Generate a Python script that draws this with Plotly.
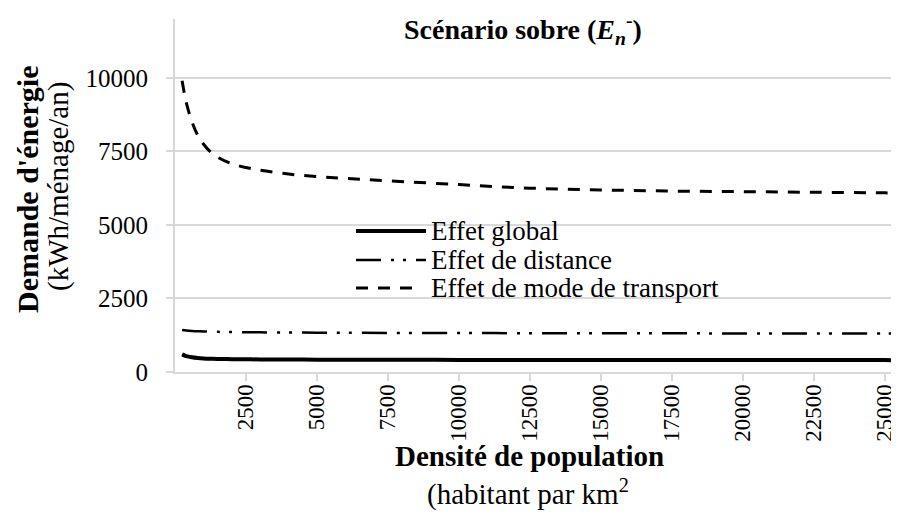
import plotly.graph_objects as go

density = [250, 400, 600, 800, 1000, 1250, 1500, 2000, 2500, 3000, 4000, 5000, 6000,
           7500, 10000, 12500, 15000, 17500, 20000, 22500, 25000, 26000]
effet_global = [600, 540, 500, 475, 460, 450, 445, 437, 432, 428, 423, 420, 418,
                415, 412, 410, 408, 407, 406, 405, 404, 403]
effet_distance = [1430, 1410, 1395, 1385, 1378, 1370, 1365, 1358, 1352, 1348, 1342, 1338, 1335,
                  1330, 1325, 1320, 1317, 1314, 1312, 1310, 1308, 1307]
effet_transport = [9900, 9150, 8500, 8050, 7750, 7480, 7300, 7080, 6950, 6860, 6730, 6640, 6580,
                   6500, 6370, 6250, 6190, 6150, 6130, 6110, 6090, 6080]

series_names = ["Effet global", "Effet de distance", "Effet de mode de transport"]
x_ticks = [2500, 5000, 7500, 10000, 12500, 15000, 17500, 20000, 22500, 25000]
y_ticks = [0, 2500, 5000, 7500, 10000]

FONT = "Liberation Serif, Times New Roman, serif"
W, H = 899, 531
ML, MR, MT, MB = 167, 0, 11, 167

styles = [
    dict(color="black", width=4),
    dict(color="black", width=2.5, dash="25px,10px,3px,9px,3px,10px"),
    dict(color="black", width=3, dash="12px,10px"),
]

fig = go.Figure()
for name, ys, st in zip(series_names, [effet_global, effet_distance, effet_transport], styles):
    fig.add_trace(go.Scatter(x=density, y=ys, name=name, mode="lines",
                             line=dict(shape="spline", **st), showlegend=False))

ph = H - MT - MB
pw = W - ML - MR
def px_x(px):
    return (px - ML) / pw
def px_y(py):
    return 1 - (py - MT) / ph

fig.update_layout(
    width=W, height=H,
    margin=dict(l=ML, r=MR, t=MT, b=MB, pad=0),
    paper_bgcolor="white", plot_bgcolor="white",
    font=dict(family=FONT, size=24, color="black"),
    showlegend=False,
    xaxis=dict(range=[0, 25775], tickvals=x_ticks, ticktext=[str(v) for v in x_ticks],
               tickangle=-90, showgrid=False, zeroline=False,
               showline=True, linecolor="#d9d9d9", linewidth=2,
               ticks="outside", ticklen=7, tickcolor="#d9d9d9", tickwidth=2,
               ticklabelstandoff=-6,
               tickfont=dict(family=FONT, size=23, color="black")),
    yaxis=dict(range=[0, 12000], tickvals=y_ticks, ticktext=[str(v) for v in y_ticks],
               showgrid=True, gridcolor="#d9d9d9", gridwidth=2, zeroline=False,
               showline=True, linecolor="#d9d9d9", linewidth=2,
               ticks="outside", ticklen=7, tickcolor="#d9d9d9", tickwidth=2,
               ticklabelstandoff=13,
               tickfont=dict(family=FONT, size=25, color="black")),
)

# legend drawn inside the plot area
leg_y = [223, 252, 280]
leg_x_end = [418, 418, 406]
for name, st, yy, xe in zip(series_names, styles, leg_y, leg_x_end):
    fig.add_shape(type="line", xref="paper", yref="paper",
                  x0=px_x(348), x1=px_x(xe), y0=px_y(yy), y1=px_y(yy),
                  line=st)
    fig.add_annotation(text=name, xref="paper", yref="paper",
                       x=px_x(421), y=px_y(yy), xanchor="left", yanchor="middle",
                       showarrow=False, font=dict(family=FONT, size=27, color="black"))

fig.add_annotation(text="<b>Scénario sobre (<i>E<sub>n</sub></i><sup>-</sup>)</b>",
                   xref="paper", yref="paper", x=px_x(515), y=px_y(21),
                   xanchor="center", yanchor="middle", showarrow=False,
                   font=dict(family=FONT, size=28, color="black"))
fig.add_annotation(text="<b>Densité de population</b>",
                   xref="paper", yref="paper", x=px_x(521), y=px_y(448),
                   xanchor="center", yanchor="middle", showarrow=False,
                   font=dict(family=FONT, size=29, color="black"))
fig.add_annotation(text="(habitant par km<sup>2</sup>",
                   xref="paper", yref="paper", x=px_x(520), y=px_y(484),
                   xanchor="center", yanchor="middle", showarrow=False,
                   font=dict(family=FONT, size=29, color="black"))
fig.add_annotation(text="<b>Demande d'énergie</b>",
                   xref="paper", yref="paper", x=px_x(19), y=px_y(182),
                   xanchor="center", yanchor="middle", showarrow=False, textangle=-90,
                   font=dict(family=FONT, size=30, color="black"))
fig.add_annotation(text="(kWh/ménage/an)",
                   xref="paper", yref="paper", x=px_x(50), y=px_y(178),
                   xanchor="center", yanchor="middle", showarrow=False, textangle=-90,
                   font=dict(family=FONT, size=29, color="black"))

fig.write_html("out.html")
